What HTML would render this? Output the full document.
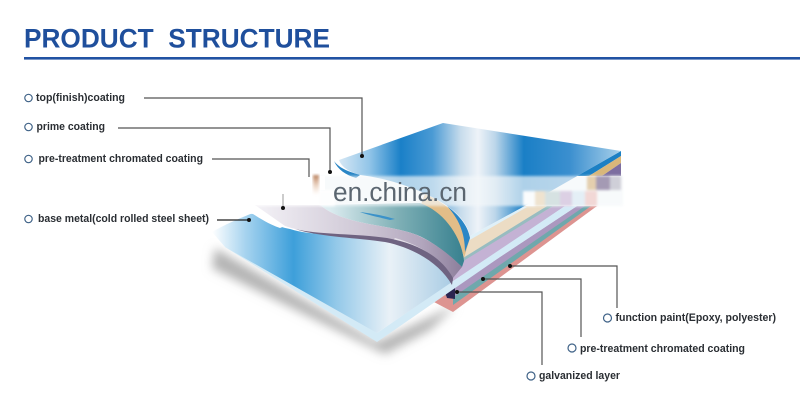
<!DOCTYPE html>
<html><head><meta charset="utf-8"><style>
html,body{margin:0;padding:0;background:#fff}
svg{display:block}
text{font-family:"Liberation Sans",sans-serif}
.l{font-size:11px;font-weight:bold;fill:#2a2e33}
.c{fill:#fff;stroke:#3f6287;stroke-width:1.2}
.w{fill:none;stroke:#555;stroke-width:1.2}
</style></head><body>
<svg width="800" height="400" viewBox="0 0 800 400" xmlns="http://www.w3.org/2000/svg">
<defs>
<linearGradient id="gt" gradientUnits="userSpaceOnUse" x1="335" y1="0" x2="621" y2="0">
<stop offset="0" stop-color="#dfecf6"/><stop offset=".12" stop-color="#92c5e8"/><stop offset=".23" stop-color="#1a80c8"/><stop offset=".34" stop-color="#4a9ad4"/><stop offset=".44" stop-color="#c7dcec"/><stop offset=".5" stop-color="#eef3f8"/><stop offset=".56" stop-color="#bcd6ea"/><stop offset=".66" stop-color="#1a7fc6"/><stop offset=".82" stop-color="#3b8fcf"/><stop offset="1" stop-color="#a8d0ea"/>
</linearGradient>
<linearGradient id="gb" gradientUnits="userSpaceOnUse" x1="212" y1="0" x2="452" y2="0">
<stop offset="0" stop-color="#fff"/><stop offset=".14" stop-color="#a6d3ef"/><stop offset=".34" stop-color="#3d9fda"/><stop offset=".52" stop-color="#94c9e9"/><stop offset=".74" stop-color="#e9f1f7"/><stop offset="1" stop-color="#a9cce4"/>
</linearGradient>
<linearGradient id="gl" gradientUnits="userSpaceOnUse" x1="260" y1="0" x2="462" y2="0">
<stop offset="0" stop-color="#f2f0f5"/><stop offset=".5" stop-color="#cfc8d6"/><stop offset=".8" stop-color="#b2a6bd"/><stop offset="1" stop-color="#8d7f9c"/>
</linearGradient>
<linearGradient id="gt2" gradientUnits="userSpaceOnUse" x1="330" y1="0" x2="465" y2="0">
<stop offset="0" stop-color="#dcecf0"/><stop offset=".5" stop-color="#7fb0b6"/><stop offset="1" stop-color="#37808f"/>
</linearGradient>
<linearGradient id="gp" x1="0" y1="0" x2="0" y2="1">
<stop offset="0" stop-color="#b8805c"/><stop offset="1" stop-color="#f0c8a8" stop-opacity="0"/>
</linearGradient>
<filter id="b3"><feGaussianBlur stdDeviation="5"/></filter>
<filter id="b1"><feGaussianBlur stdDeviation="1.2"/></filter>
</defs>
<rect width="800" height="400" fill="#fff"/>

<!-- title -->
<text x="24" y="47.5" font-size="26.5" font-weight="bold" fill="#1f4f9c" textLength="306" lengthAdjust="spacingAndGlyphs" xml:space="preserve">PRODUCT  STRUCTURE</text>
<rect x="24" y="57" width="776" height="2.6" fill="#2152a3"/>

<!-- shadow -->
<path d="M215 248 L377 342 L456 305 L430 330 L385 354 L300 312 L212 268 Z" fill="#b4b4b4" filter="url(#b3)"/>

<!-- lower stack (right side) -->
<polygon points="590,206 597,206 453,312 434,302 445,294" fill="#dd9491"/>
<polygon points="584,206 591,206 453,305 453,296 445,296" fill="#6fa8ac"/>
<polygon points="577,206 585,206 455,296 447,292" fill="#ab98bf"/>
<polygon points="445,292 455,287 455,299 447,298" fill="#2b2450"/>

<!-- upper stack -->
<polygon points="553,206 565,206 453,283 453,272 465,258" fill="#c4b2d4"/>
<polygon points="547,206 553,206 465,260 453,272 463,256" fill="#98bcc0"/>
<polygon points="525,206 547,206 463,258 468,238" fill="#ecdcc4"/>

<!-- upper stack near far corner -->
<polygon points="621,151 621,156 589,176 577,176" fill="#1c80c4"/>
<polygon points="621,156 621,163 602,176 589,176" fill="#d9b77a"/>
<polygon points="621,163 621,176 602,176" fill="#7d6ea0"/>

<!-- top surface -->
<path d="M339 160 L443 123 L621 151 L523 207 L470 236 C467 222 455 208 430 196 C410 186 385 178 360 175 C350 172 342 168 339 160 Z" fill="url(#gt)"/>
<path d="M470 236 L523 207 L527 207 L468 241 Z" fill="#dff0f8"/>
<path d="M334 161 C340 169 350 172 360 175 L356 178 C346 175 338 170 334 161 Z" fill="#2a86c6"/>

<!-- beige curl -->
<path d="M425 194 C450 205 467 222 470 238 L464 258 C460 238 445 218 420 207 Z" fill="#e2bd88"/>
<path d="M447 206 C460 216 468 226 470 238 L465 252 C465 232 458 218 447 206 Z" fill="#2a86c6"/>

<!-- teal curl -->
<path d="M320 205 L420 203 C445 212 462 238 464 261 L462 267 C447 253 430 240 417 235 C390 224 345 226 320 205 Z" fill="url(#gt2)"/>
<path d="M360 212 C375 214 385 216 395 219 L390 220 C378 217 368 215 360 212 Z" fill="#3b92c9"/>

<!-- lilac -->
<path d="M255 205 L320 205 C345 226 390 224 417 235 C435 243 450 255 462 267 L453 278 L453 284 C440 262 420 248 395 241 C360 234 320 238 285 226 Z" fill="url(#gl)"/>
<path d="M395 238 C420 245 440 258 450 276 L447 276 C437 260 417 247 392 241 Z" fill="#fff" opacity=".6"/>

<!-- front sheet -->
<path d="M225 247 L377 342 L500 257 L577 206 L565 206 L450 283 L377 333 L235 240 Z" fill="#d3eaf6"/>
<path d="M212 232 C222 226 240 218 253 213 C265 220 275 226 290 229 C310 236 350 234 387 240 C415 246 440 258 452 282 L377 333 L225 247 Z" fill="url(#gb)"/>
<path d="M295 229 C320 235 350 233 387 238 C420 244 442 258 453 278 L452 285 C440 264 415 248 385 242 C350 237 320 237 295 229 Z" fill="#6f6381"/>
<path d="M243 213 L253 210 C265 217 275 222 285 226 L280 228 C268 224 258 217 253 214 Z" fill="#fff"/>

<!-- watermark band -->
<rect x="320" y="176" width="303" height="30" fill="#f4f8fa" opacity=".68" filter="url(#b1)"/>
<rect x="255" y="190" width="80" height="16" fill="#fff" opacity=".85" filter="url(#b1)"/>
<rect x="255" y="176" width="70" height="14" fill="#fff"/>
<g filter="url(#b1)">
<rect x="587" y="176" width="9" height="14" fill="#e4cfae"/>
<rect x="596" y="176" width="14" height="14" fill="#a49ab4"/>
<rect x="610" y="176" width="11" height="14" fill="#cfcfd8"/>
<rect x="523" y="191" width="12" height="15" fill="#fafcfd"/>
<rect x="535" y="191" width="10" height="15" fill="#efe3cf"/>
<rect x="545" y="191" width="15" height="15" fill="#d6e2e2"/>
<rect x="560" y="191" width="12" height="15" fill="#dcd0e4"/>
<rect x="572" y="191" width="13" height="15" fill="#e4eff6"/>
<rect x="585" y="191" width="12" height="15" fill="#f2d8d6"/>
</g>
<rect x="313" y="175" width="6" height="20" fill="url(#gp)" filter="url(#b1)"/>
<text x="333" y="201" font-size="26.2" fill="#5b6670" textLength="134">en.china.cn</text>

<!-- leaders -->
<path class="w" d="M144 98 H362 V156"/>
<path class="w" d="M118 128 H330 V172"/>
<path class="w" d="M212 159 H309 V177"/>
<path class="w" d="M283 194 V208" stroke-opacity=".5"/>
<path class="w" d="M217 220 H248" style="stroke:#222"/>
<path class="w" d="M510 266 H617 V308"/>
<path class="w" d="M483 279 H581 V337"/>
<path class="w" d="M457 292 H542 V365"/>
<g fill="#111">
<circle cx="362" cy="156" r="2"/><circle cx="330" cy="172" r="2"/><circle cx="283" cy="208" r="2"/><circle cx="249" cy="220" r="2"/>
<circle cx="510" cy="266" r="2"/><circle cx="483" cy="279" r="2"/><circle cx="457" cy="292" r="2"/>
</g>

<!-- labels -->
<circle class="c" cx="28.5" cy="98" r="3.7"/>
<circle class="c" cx="28.5" cy="127" r="3.7"/>
<circle class="c" cx="28.5" cy="159" r="3.7"/>
<circle class="c" cx="28.5" cy="219" r="3.7"/>
<circle class="c" cx="607.5" cy="318" r="4"/>
<circle class="c" cx="572" cy="348" r="4"/>
<circle class="c" cx="531" cy="376" r="4"/>
<text class="l" x="36" y="101" textLength="89" lengthAdjust="spacingAndGlyphs">top(finish)coating</text>
<text class="l" x="36.500" y="130" textLength="68.500" lengthAdjust="spacingAndGlyphs">prime coating</text>
<text class="l" x="38.500" y="162" textLength="164.500" lengthAdjust="spacingAndGlyphs">pre-treatment chromated coating</text>
<text class="l" x="38" y="222" textLength="171" lengthAdjust="spacingAndGlyphs">base metal(cold rolled steel sheet)</text>
<text class="l" x="615.500" y="321" textLength="160.500" lengthAdjust="spacingAndGlyphs">function paint(Epoxy, polyester)</text>
<text class="l" x="580" y="352" textLength="165" lengthAdjust="spacingAndGlyphs">pre-treatment chromated coating</text>
<text class="l" x="539" y="379" textLength="81" lengthAdjust="spacingAndGlyphs">galvanized layer</text>
</svg>
</body></html>
